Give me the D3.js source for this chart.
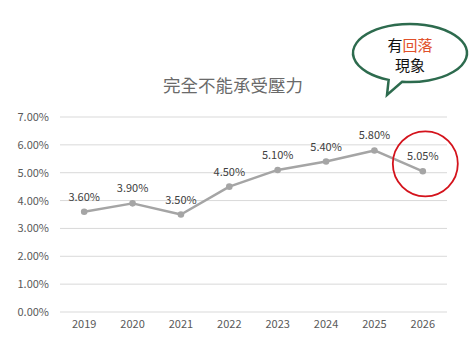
<!DOCTYPE html>
<html><head><meta charset="utf-8">
<script src="https://cdn.jsdelivr.net/npm/d3@7"></script>
<style>body{margin:0;background:#fff}svg{display:block}</style>
</head><body>
<script>
const years = ["2019","2020","2021","2022","2023","2024","2025","2026"];
const values = [3.60, 3.90, 3.50, 4.50, 5.10, 5.40, 5.80, 5.05];
const yTicks = [0,1,2,3,4,5,6,7];
const title = "完全不能承受壓力";

const W = 476, H = 356;
const svg = d3.select("body").append("svg").attr("width", W).attr("height", H);
const font = "'Microsoft JhengHei','Noto Sans CJK TC','Noto Sans',sans-serif";

const x = d3.scaleBand().domain(years).range([60, 447]);
const y = d3.scaleLinear().domain([0, 7]).range([312, 117]);

// gridlines
svg.append("g").selectAll("line").data(yTicks).join("line")
  .attr("x1", 60).attr("x2", 447)
  .attr("y1", d => y(d)).attr("y2", d => y(d))
  .attr("stroke", "#d9d9d9").attr("stroke-width", 1);

// y axis labels
const yAxis = d3.axisLeft(y).tickValues(yTicks).tickFormat(d => d.toFixed(2) + "%").tickSize(0).tickPadding(0);
const gy = svg.append("g").attr("transform", "translate(49,0)").call(yAxis);
gy.select(".domain").remove();
gy.selectAll("text").attr("font-family", font).attr("font-size", 11).attr("fill", "#595959");

// x axis labels
const xAxis = d3.axisBottom(x).tickSize(0).tickPadding(0);
const gx = svg.append("g").attr("transform", "translate(0,320)").call(xAxis);
gx.select(".domain").remove();
gx.selectAll("text").attr("font-family", font).attr("font-size", 11).attr("fill", "#595959");

// title
svg.append("text").attr("x", 233).attr("y", 92).attr("text-anchor", "middle")
  .attr("font-family", font).attr("font-size", 17.5).attr("fill", "#6a6a6a").text(title);

// line
const cx = d => x(d) + x.bandwidth() / 2;
const line = d3.line().x((d, i) => cx(years[i])).y(d => y(d));
svg.append("path").datum(values).attr("d", line)
  .attr("fill", "none").attr("stroke", "#a5a5a5").attr("stroke-width", 2.5).attr("stroke-linejoin", "round");
svg.append("g").selectAll("circle").data(values).join("circle")
  .attr("cx", (d, i) => cx(years[i])).attr("cy", d => y(d)).attr("r", 3.3).attr("fill", "#a5a5a5");

// data labels
svg.append("g").selectAll("text").data(values).join("text")
  .attr("x", (d, i) => cx(years[i])).attr("y", d => y(d) - 11)
  .attr("text-anchor", "middle").attr("font-family", font).attr("font-size", 11).attr("fill", "#404040")
  .text(d => d.toFixed(2) + "%");

// red circle around last point
const lastX = cx(years[years.length - 1]);
svg.append("circle").attr("cx", lastX + 2.5).attr("cy", y(values[7]) - 7.5).attr("r", 32.5)
  .attr("fill", "none").attr("stroke", "#d4131c").attr("stroke-width", 1.8);

// speech bubble
const bx = 410, by = 53, rx = 57, ry = 29;
const a1 = 112 * Math.PI / 180, a2 = 98 * Math.PI / 180;
const p1 = [bx + rx * Math.cos(a1), by + ry * Math.sin(a1)];
const p2 = [bx + rx * Math.cos(a2), by + ry * Math.sin(a2)];
const tip = [387, 95];
const bubble = `M${p2[0]},${p2[1]} A${rx},${ry} 0 1 0 ${p1[0]},${p1[1]} L${tip[0]},${tip[1]} Z`;
svg.append("path").attr("d", bubble).attr("fill", "#fff")
  .attr("stroke", "#2d6b4e").attr("stroke-width", 2.5).attr("stroke-linejoin", "miter");
const t1 = svg.append("text").attr("x", bx).attr("y", 51).attr("text-anchor", "middle")
  .attr("font-family", font).attr("font-size", 15);
t1.append("tspan").attr("fill", "#111").text("有");
t1.append("tspan").attr("fill", "#e0502a").text("回落");
svg.append("text").attr("x", bx).attr("y", 71).attr("text-anchor", "middle")
  .attr("font-family", font).attr("font-size", 15).attr("fill", "#111").text("現象");
</script>
</body></html>
